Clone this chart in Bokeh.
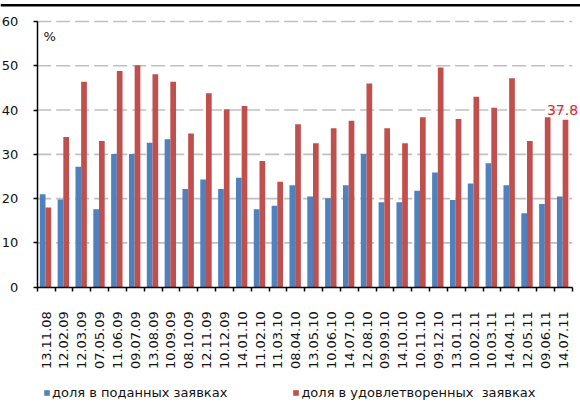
from bokeh.plotting import figure
from bokeh.models import (ColumnDataSource, FixedTicker, Legend, LegendItem, Label, Range1d, Span)
from bokeh.transform import dodge
from bokeh.embed import file_html
from bokeh.resources import INLINE

categories = ["13.11.08", "12.02.09", "12.03.09", "07.05.09", "11.06.09", "09.07.09",
              "13.08.09", "10.09.09", "08.10.09", "12.11.09", "10.12.09", "14.01.10",
              "11.02.10", "11.03.10", "08.04.10", "13.05.10", "10.06.10", "14.07.10",
              "12.08.10", "09.09.10", "14.10.10", "10.11.10", "09.12.10", "13.01.11",
              "10.02.11", "10.03.11", "14.04.11", "12.05.11", "09.06.11", "14.07.11"]
submitted = [21.0, 19.8, 27.2, 17.6, 30.1, 30.1, 32.6, 33.4, 22.2, 24.3,
             22.2, 24.7, 17.6, 18.4, 23.0, 20.5, 20.1, 23.0, 30.1, 19.2,
             19.2, 21.8, 25.9, 19.7, 23.4, 28.0, 23.0, 16.7, 18.8, 20.5]
satisfied = [18.0, 33.9, 46.4, 33.0, 48.8, 50.1, 48.1, 46.4, 34.7, 43.8,
             40.2, 40.9, 28.5, 23.8, 36.8, 32.5, 35.9, 37.6, 46.0, 35.9,
             32.5, 38.4, 49.6, 38.0, 43.0, 40.5, 47.2, 33.0, 38.4, 37.8]
series_names = ["доля в поданных заявках", "доля в удовлетворенных  заявках"]
y_ticks = [0, 10, 20, 30, 40, 50, 60]

FONT = "DejaVu Sans"
n = len(categories)
centers = [i + 0.5 for i in range(n)]
source = ColumnDataSource(dict(x=centers, cat=categories, sub=submitted, sat=satisfied))

# The frame covers the whole canvas; both axes are pinned at 0 with fixed_location,
# so labels, legend and the top rule are all drawn inside it.
p = figure(width=580, height=403, output_backend="svg", toolbar_location=None,
           x_range=Range1d(-2.058, 30.466), y_range=Range1d(-26.263, 64.742),
           min_border=0, min_border_left=0, min_border_right=0,
           min_border_top=0, min_border_bottom=0)
p.outline_line_color = None

# dashed horizontal grid lines (drawn from the y tick values, under the bars)
p.segment(x0=0, x1=n, y0=y_ticks[1:], y1=y_ticks[1:], line_color="#C0C0C0",
          line_width=1.6, line_dash="14 5")

r1 = p.vbar(x=dodge("x", -0.194, range=p.x_range), top="sub", width=0.32, source=source,
            fill_color="#4F81BD", line_color=None)
r2 = p.vbar(x=dodge("x", 0.125, range=p.x_range), top="sat", width=0.32, source=source,
            fill_color="#C0504D", line_color=None)

xax = p.xaxis[0]
xax.fixed_location = 0
xax.bounds = (0, n)
xax.ticker = FixedTicker(ticks=centers, minor_ticks=list(range(n + 1)))
xax.major_label_overrides = {c: lab for c, lab in zip(centers, categories)}
xax.major_label_orientation = 1.5707963267948966
xax.major_tick_out = 0
xax.major_tick_in = 0
xax.major_tick_line_color = None
xax.minor_tick_out = 4
xax.minor_tick_in = 0
xax.minor_tick_line_color = "black"
xax.minor_tick_line_width = 1.5
xax.axis_line_color = "black"
xax.axis_line_width = 1.5
xax.major_label_standoff = 20
xax.major_label_text_font = FONT
xax.major_label_text_font_size = "13px"
xax.major_label_text_color = "#111111"

yax = p.yaxis[0]
yax.fixed_location = 0
yax.bounds = (0, 60)
yax.ticker = FixedTicker(ticks=y_ticks)
yax.major_tick_out = 4
yax.major_tick_in = 0
yax.minor_tick_line_color = None
yax.major_tick_line_width = 1.5
yax.axis_line_color = "black"
yax.axis_line_width = 1.5
yax.major_label_standoff = 15
yax.major_label_text_font = FONT
yax.major_label_text_font_size = "13px"
yax.major_label_text_color = "#111111"

p.xgrid.visible = False
p.ygrid.visible = False

# thin black rule across the top of the picture
p.add_layout(Span(location=63.65, dimension="width", line_color="black", line_width=2.5))

p.add_layout(Label(x=0.35, y=58.4, text="%", text_baseline="top", text_font=FONT,
                   text_font_size="13px", text_color="#111111"))
p.add_layout(Label(x=n - 1 + 0.5 + 0.125, y=satisfied[-1], x_offset=-3, y_offset=10,
                   text=f"{satisfied[-1]}", text_align="center", text_baseline="alphabetic",
                   text_font=FONT, text_font_size="14px", text_color="#E0242A"))

legend = Legend(items=[LegendItem(label=series_names[0], renderers=[r1]),
                       LegendItem(label=series_names[1], renderers=[r2])],
                location=(43, 3), orientation="horizontal", padding=0, margin=0,
                spacing=65, border_line_color=None, background_fill_alpha=0,
                glyph_width=7, glyph_height=7, label_standoff=2,
                label_text_font=FONT, label_text_font_size="13px",
                label_text_color="#111111")
p.add_layout(legend)

open("out.html", "w").write(file_html(p, INLINE))
